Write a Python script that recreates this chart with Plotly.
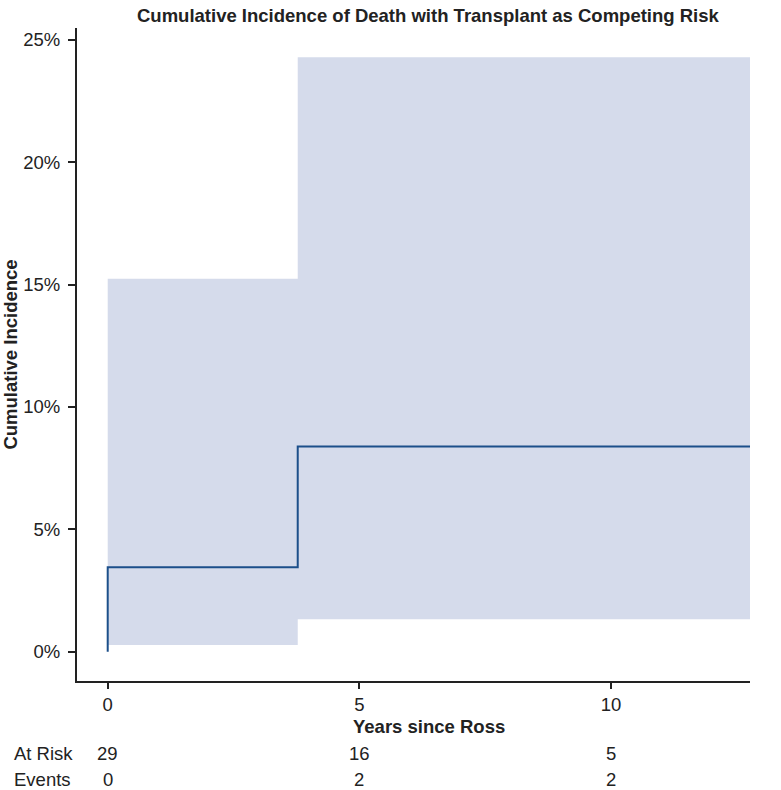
import plotly.graph_objects as go

# Data (percent)
time_points = [0, 3.775, 12.76]
estimate = [3.45, 8.38, 8.38]
lower_ci = [0.27, 1.32, 1.32]
upper_ci = [15.24, 24.29, 24.29]

table_times = [0, 5, 10]
at_risk = [29, 16, 5]
events = [0, 2, 2]

x_ticks = [0, 5, 10]
y_ticks = [0, 5, 10, 15, 20, 25]
y_tick_labels = ["0%", "5%", "10%", "15%", "20%", "25%"]

FONT = "Liberation Sans, Arial, Helvetica, sans-serif"
BAND = "#d5dbeb"
LINE = "#1c4f8a"
TXT = "#222"
FS = 18.5

fig = go.Figure()
fig.add_trace(go.Scatter(x=time_points, y=lower_ci, mode="lines", line=dict(width=0, shape="hv"),
                         showlegend=False, hoverinfo="skip"))
fig.add_trace(go.Scatter(x=time_points, y=upper_ci, mode="lines", line=dict(width=0, shape="hv"),
                         fill="tonexty", fillcolor=BAND, showlegend=False, hoverinfo="skip"))
fig.add_trace(go.Scatter(x=[time_points[0]] + time_points, y=[0] + estimate, mode="lines",
                         line=dict(color=LINE, width=2, shape="hv"), showlegend=False))

W, H = 781, 790
ml, mr, mt, mb = 77, 31, 28, 109
ph = H - mt - mb

def ypaper(px):
    return (H - mb - px) / ph

mid = (time_points[0] + time_points[-1]) / 2
ann = []
ann.append(dict(text="<b>Cumulative Incidence of Death with Transplant as Competing Risk</b>",
                x=mid, xref="x", y=ypaper(15), yref="paper", showarrow=False,
                font=dict(size=18.5, color=TXT), xanchor="center", yanchor="middle"))
ann.append(dict(text="<b>Years since Ross</b>", x=mid, xref="x", y=ypaper(727), yref="paper",
                showarrow=False, font=dict(size=FS, color=TXT), xanchor="center", yanchor="middle"))
for lab, vals, ypx in [("At Risk", at_risk, 753), ("Events", events, 779)]:
    ann.append(dict(text=lab, x=(12 - ml) / (W - ml - mr), xref="paper", y=ypaper(ypx), yref="paper",
                    showarrow=False, font=dict(size=FS, color=TXT), xanchor="left", yanchor="middle"))
    for t, v in zip(table_times, vals):
        ann.append(dict(text=str(v), x=t, xref="x", y=ypaper(ypx), yref="paper", showarrow=False,
                        font=dict(size=FS, color=TXT), xanchor="center", yanchor="middle"))

fig.update_layout(
    width=W, height=H,
    margin=dict(l=ml, r=mr, t=mt, b=mb, pad=0, autoexpand=False),
    paper_bgcolor="white", plot_bgcolor="white",
    font=dict(family=FONT, color=TXT, size=FS),
    annotations=ann,
    xaxis=dict(range=[-0.61, 12.76], tickvals=x_ticks, ticks="outside", ticklen=6, tickwidth=1.5,
               tickcolor=TXT, showline=True, linecolor=TXT, linewidth=2, showgrid=False,
               zeroline=False, tickfont=dict(size=FS), automargin=False),
    yaxis=dict(range=[-1.2, 25.48], tickvals=y_ticks, ticktext=y_tick_labels, ticks="outside", ticklen=7,
               tickwidth=1.5, tickcolor=TXT, showline=True, linecolor=TXT, linewidth=2,
               showgrid=False, zeroline=False, tickfont=dict(size=FS), automargin=False,
               ticklabelstandoff=4,
               title=dict(text="<b>Cumulative Incidence</b>", font=dict(size=FS), standoff=4)),
)

fig.write_html("out.html")
